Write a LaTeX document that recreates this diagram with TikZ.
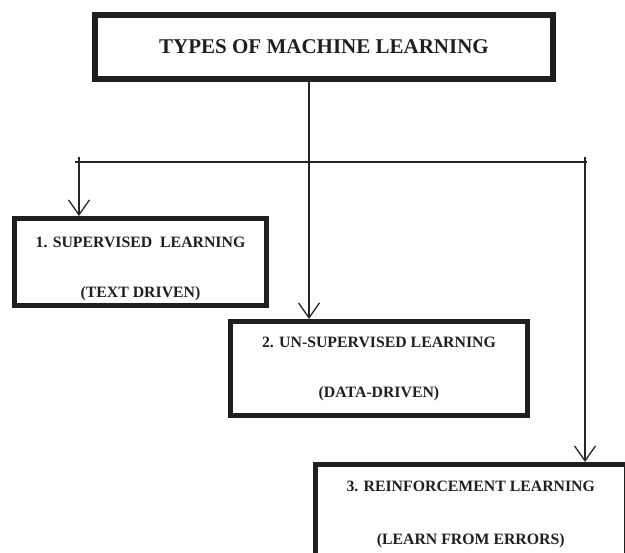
\documentclass[tikz,border=0pt]{standalone}
\usepackage{fontspec}
\setmainfont{Liberation Serif}
\usetikzlibrary{arrows.meta}

\begin{document}
\begin{tikzpicture}[%
            x=1pt, y=-1pt,
            >={Straight Barb[length=15pt,width=21pt]},
            mlbox/.style={draw=black!88, line width=5pt, align=center, inner sep=0pt,
              font=\bfseries\fontsize{15.8}{19}\selectfont, text=black!88},
            link/.style={draw=black!85, line width=1.3pt}
            ]
            \useasboundingbox (0,0) rectangle (625,553);

            \node[mlbox, line width=6pt, minimum width=458pt, minimum height=64pt,
              font=\bfseries\fontsize{21}{25}\selectfont] (types) at (324,47) {TYPES OF MACHINE LEARNING};
            \node[mlbox, minimum width=252pt, minimum height=87pt] (sup) at (140.5,262)
              {\rule{0pt}{25pt}1. SUPERVISED\ \ LEARNING\\[31pt](TEXT DRIVEN)};
            \node[mlbox, minimum width=297pt, minimum height=94pt] (unsup) at (379,368.5)
              {2. UN-SUPERVISED LEARNING\\[31pt](DATA-DRIVEN)};
            \node[mlbox, minimum width=311.5pt, minimum height=100pt] (reinf) at (470.75,514.5)
              {3. REINFORCEMENT LEARNING\\[34pt](LEARN FROM ERRORS)};

            \coordinate (stem) at (309,162);
            \coordinate (hl) at (75,162);
            \coordinate (hr) at (587,162);
            \coordinate (tl) at (79,157);
            \coordinate (tr) at (585,157);

            \draw[link] (hl) -- (hr);
            \draw[link,->] (types.south -| stem) -- (stem |- unsup.north);
            \draw[link,->] (tl) -- (tl |- sup.north);
            \draw[link,->] (tr) -- (tr |- reinf.north);

        \end{tikzpicture}
\end{document}
